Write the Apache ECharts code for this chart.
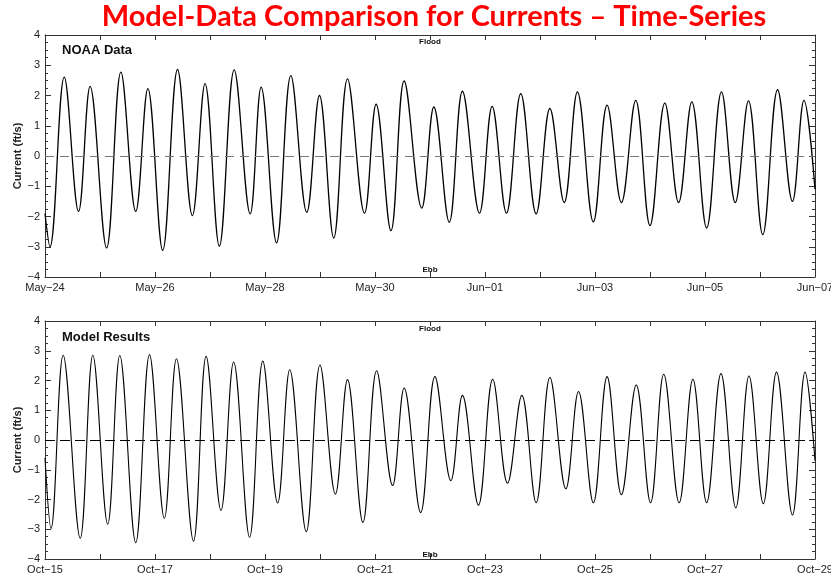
<!DOCTYPE html>
<html>
<head>
<meta charset="utf-8">
<script src="https://cdn.jsdelivr.net/npm/echarts@6/dist/echarts.min.js"></script>
<style>
html,body{margin:0;padding:0;background:#fff;}
#main{width:831px;height:581px;}
</style>
</head>
<body>
<div id="main"></div>
<script type="text/javascript">
	// NOAA实测 - 峰谷值 (距 May-24 的天数)
	var noaaDays = [0, 0.09, 0.35, 0.61, 0.82, 1.12, 1.38, 1.65, 1.87, 2.14, 2.41, 2.68, 2.91, 3.17, 3.44, 3.73, 3.93, 4.21, 4.47, 4.76, 4.99, 5.25, 5.50, 5.81, 6.02, 6.29, 6.53, 6.85, 7.07, 7.35, 7.59, 7.90, 8.13, 8.39, 8.65, 8.93, 9.18, 9.44, 9.68, 9.97, 10.22, 10.48, 10.74, 11.00, 11.27, 11.52, 11.76, 12.03, 12.30, 12.55, 12.79, 13.05, 13.32, 13.59, 13.80, 14.0];
	var noaaVals = [-1.9, -3.0, 2.61, -1.83, 2.30, -3.04, 2.77, -1.83, 2.23, -3.12, 2.86, -1.97, 2.39, -2.98, 2.85, -1.91, 2.28, -2.87, 2.66, -1.86, 2.0, -2.71, 2.55, -1.89, 1.71, -2.47, 2.48, -1.72, 1.62, -2.19, 2.14, -1.89, 1.64, -1.89, 2.06, -1.91, 1.57, -1.54, 2.12, -2.18, 1.68, -1.54, 1.84, -2.30, 1.75, -1.54, 1.79, -2.38, 2.12, -1.54, 1.82, -2.60, 2.19, -1.50, 1.84, -1.1];

	// 模型结果 - 峰谷值 (距 Oct-15 的天数)
	var modelDays = [0, 0.11, 0.33, 0.64, 0.87, 1.14, 1.36, 1.65, 1.90, 2.17, 2.39, 2.70, 2.93, 3.20, 3.43, 3.72, 3.96, 4.23, 4.45, 4.75, 5.00, 5.28, 5.50, 5.78, 6.03, 6.32, 6.53, 6.83, 7.09, 7.38, 7.59, 7.88, 8.14, 8.41, 8.67, 8.93, 9.18, 9.47, 9.70, 9.97, 10.22, 10.48, 10.75, 11.01, 11.25, 11.53, 11.78, 12.03, 12.29, 12.56, 12.80, 13.06, 13.30, 13.59, 13.82, 14.0];
	var modelVals = [-0.6, -2.97, 2.85, -3.30, 2.85, -2.83, 2.84, -3.45, 2.87, -2.63, 2.73, -3.40, 2.81, -2.37, 2.62, -3.27, 2.65, -2.12, 2.36, -3.08, 2.52, -1.82, 2.03, -2.77, 2.33, -1.53, 1.75, -2.44, 2.13, -1.37, 1.50, -2.19, 2.04, -1.45, 1.50, -2.11, 2.10, -1.64, 1.63, -2.11, 2.13, -1.84, 1.85, -2.11, 2.21, -2.11, 2.04, -2.11, 2.23, -2.28, 2.15, -2.14, 2.28, -2.52, 2.28, -0.7];

	// 横轴刻度文字 (每两天一个)
	var noaaTicks = ['May\u221224', 'May\u221226', 'May\u221228', 'May\u221230', 'Jun\u221201', 'Jun\u221203', 'Jun\u221205', 'Jun\u221207'];
	var modelTicks = ['Oct\u221215', 'Oct\u221217', 'Oct\u221219', 'Oct\u221221', 'Oct\u221223', 'Oct\u221225', 'Oct\u221227', 'Oct\u221229'];

	var font = 'Liberation Sans';
	var axisColor = '#333';

	function toPairs(xs, ys){
		return xs.map(function(x, i){ return [x, ys[i]]; });
	}

	function xAxisCfg(grid, pos, ticks){
		return {
			type: 'value', gridIndex: grid, position: pos,
			min: 0, max: 14, interval: 1,
			axisLine: {show: true, onZero: false, lineStyle: {color: axisColor, width: 1}},
			axisTick: {show: true, inside: true, length: 5, lineStyle: {color: axisColor}},
			splitLine: {show: false},
			axisLabel: {
				show: !!ticks, margin: 5, fontSize: 11, color: '#222', fontFamily: font,
				formatter: function(v){ return (ticks && v % 2 === 0) ? ticks[v / 2] : ''; }
			}
		};
	}

	function yAxisCfg(grid, pos, named){
		return {
			type: 'value', gridIndex: grid, position: pos,
			min: -4, max: 4, interval: 1,
			name: named ? 'Current (ft/s)' : '',
			nameLocation: 'middle', nameGap: 22, nameMoveOverlap: false,
			nameTextStyle: {fontSize: 11, fontWeight: 'bold', color: '#222', fontFamily: font},
			axisLine: {show: true, onZero: false, lineStyle: {color: axisColor, width: 1}},
			axisTick: {show: true, inside: true, length: 6, lineStyle: {color: axisColor}},
			minorTick: {show: true, splitNumber: 4, length: 3, lineStyle: {color: axisColor}},
			splitLine: {show: false},
			axisLabel: {
				show: named, margin: 5, fontSize: 11, color: '#222', fontFamily: font,
				formatter: function(v){ return v < 0 ? '\u2212' + (-v) : String(v); }
			}
		};
	}

	function label(text, left, top, size, align){
		return {
			text: text, left: left, top: top, padding: 0,
			textAlign: align || 'left',
			textStyle: {fontSize: size, fontWeight: 'bold', color: '#111', fontFamily: font}
		};
	}

	var myChart = echarts.init(document.getElementById('main'));

	var option = {
		animation: false,
		backgroundColor: '#fff',
		title: [
			{
				text: 'Model-Data Comparison for Currents \u2013 Time-Series',
				left: 434, top: 2, padding: 0, textAlign: 'center',
				textStyle: {fontSize: 29, fontWeight: 'bold', color: '#ff0000', fontFamily: 'Lato'}
			},
			label('NOAA Data', 62, 44, 13),
			label('Flood', 430, 38, 8, 'center'),
			label('Ebb', 430, 266, 8, 'center'),
			label('Model Results', 62, 331, 13),
			label('Flood', 430, 325, 8, 'center'),
			label('Ebb', 430, 551, 8, 'center')
		],
		grid: [
			{left: 45, top: 35, width: 770, height: 242, outerBoundsMode: 'none'},
			{left: 45, top: 321, width: 770, height: 238, outerBoundsMode: 'none'}
		],
		xAxis: [
			xAxisCfg(0, 'bottom', noaaTicks),
			xAxisCfg(0, 'top', null),
			xAxisCfg(1, 'bottom', modelTicks),
			xAxisCfg(1, 'top', null)
		],
		yAxis: [
			yAxisCfg(0, 'left', true),
			yAxisCfg(0, 'right', false),
			yAxisCfg(1, 'left', true),
			yAxisCfg(1, 'right', false)
		],
		series: [
			{
				name: 'NOAA Data', type: 'line', xAxisIndex: 0, yAxisIndex: 0,
				data: toPairs(noaaDays, noaaVals),
				smooth: 0.38, showSymbol: false,
				lineStyle: {color: '#000', width: 1.3},
				markLine: {
					silent: true, symbol: ['none', 'none'], label: {show: false},
					lineStyle: {color: '#777', type: [9, 6], width: 1},
					data: [{yAxis: 0}]
				}
			},
			{
				name: 'Model Results', type: 'line', xAxisIndex: 2, yAxisIndex: 2,
				data: toPairs(modelDays, modelVals),
				smooth: 0.38, showSymbol: false,
				lineStyle: {color: '#000', width: 1.1},
				markLine: {
					silent: true, symbol: ['none', 'none'], label: {show: false},
					lineStyle: {color: '#000', type: [10, 5], width: 1},
					data: [{yAxis: 0}]
				}
			}
		]
	};

	myChart.setOption(option);
</script>
</body>
</html>
